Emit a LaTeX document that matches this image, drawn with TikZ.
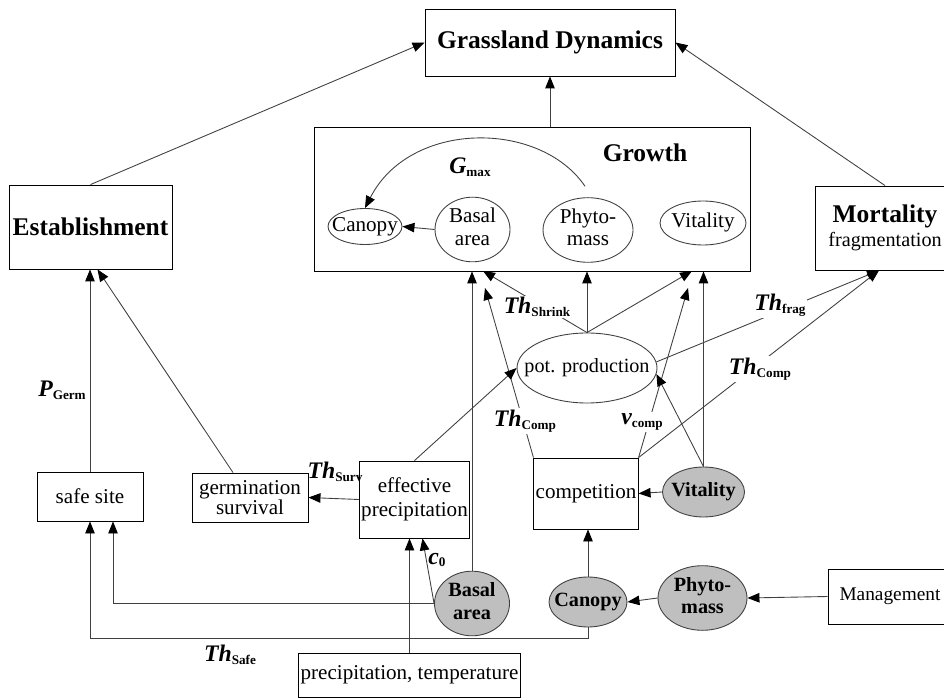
\documentclass[tikz,border=0pt]{standalone}
\usepackage{fontspec}
\setmainfont{Liberation Serif}
\usetikzlibrary{arrows.meta, shapes.geometric, calc}

\newcommand{\tight}[1]{\makebox[0pt]{\begin{tabular}{@{}c@{}}#1\end{tabular}}}
\newcommand{\parlab}[2]{{\fontsize{13.5}{13.5}\selectfont\bfseries\itshape #1}\raisebox{-1.5pt}{\fontsize{7.5}{7.5}\selectfont\bfseries #2}}

\begin{document}
\begin{tikzpicture}[
  x=0.2mm, y=-0.2mm,
  box/.style={draw, rectangle, inner sep=1pt, align=center, line width=0.5pt, font=\fontsize{12}{13.5}\selectfont},
  head/.style={box, font=\fontsize{14.5}{16}\selectfont\bfseries},
  ell/.style={draw=black!75, ellipse, inner sep=0pt, line width=0.5pt, font=\fontsize{12}{13}\selectfont},
  gell/.style={ell, fill=gray!50, font=\fontsize{11.5}{13}\selectfont\bfseries},
  arr/.style={-{Triangle[length=2.4mm, width=1.9mm, color=black]}, line width=0.5pt, draw=black!75},
  lab/.style={fill=white, inner sep=1pt},
  plain/.style={inner sep=1pt}
]
\useasboundingbox (0,0) rectangle (944,700);
\clip (0,0) rectangle (944,700);

\node[head, minimum width=50mm, minimum height=13.4mm] (gd) at (550,42.5) {Grassland Dynamics};
\node[box, minimum width=87.2mm, minimum height=28.8mm] (growth) at (532,199) {};
\node[font=\fontsize{14.5}{16}\selectfont\bfseries] (growthlab) at (645,153) {Growth};
\node[head, minimum width=32.6mm, minimum height=16.8mm] (estab) at (90.5,227) {Establishment};
\node[box, minimum width=28mm, minimum height=16.8mm, font=\fontsize{11.5}{13.5}\selectfont] (mort) at (885,228) {{\fontsize{14.5}{16}\selectfont\bfseries Mortality}\\fragmentation};

\node[ell, minimum width=14.8mm, minimum height=7.2mm] (canopy) at (365,226.5) {\tight{Canopy}};
\node[ell, minimum width=15mm, minimum height=11mm] (basal) at (472.5,229.5) {\tight{Basal\\area}};
\node[ell, minimum width=18mm, minimum height=10.8mm] (phyto) at (588,230) {\tight{Phyto-\\mass}};
\node[ell, minimum width=17.2mm, minimum height=8.8mm] (vital) at (703,223) {\tight{Vitality}};

\node[ell, minimum width=28mm, minimum height=14mm, font=\fontsize{11.5}{13}\selectfont] (pot) at (587,368) {\tight{pot. production}};

\node[box, minimum width=21.2mm, minimum height=9.8mm] (safe) at (90,496.5) {safe site};
\node[box, minimum width=23.2mm, minimum height=9.8mm] (germ) at (250,497.5) {germination\\[-2pt]survival};
\node[box, minimum width=21.8mm, minimum height=15.4mm] (effp) at (414.5,499.5) {effective\\precipitation};
\node[box, minimum width=20.4mm, minimum height=14.2mm] (comp) at (586,493.5) {competition};
\node[gell, minimum width=16.4mm, minimum height=10mm] (vitG) at (703.5,492) {\tight{Vitality}};
\node[gell, minimum width=17.8mm, minimum height=11.6mm] (phyG) at (702.5,598) {\tight{Phyto-\\mass}};
\node[gell, minimum width=15.6mm, minimum height=10mm] (canG) at (588,602) {\tight{Canopy}};
\node[gell, minimum width=15mm, minimum height=10.6mm] (basalG) at (472,603.5) {\tight{Basal\\area}};
\node[box, minimum width=24.8mm, minimum height=11mm, font=\fontsize{11}{13}\selectfont] (mgmt) at (890,596.5) {Management};
\node[box, minimum width=43.8mm, minimum height=8.8mm] (prec) at (409.5,675) {precipitation, temperature};

\coordinate (gA) at (483,271);
\coordinate (gB) at (485,288);
\coordinate (gC) at (692,271);
\coordinate (gD) at (688,288);
\coordinate (mB) at ($(mort.south)+(-6,0)$);

\draw[arr] (estab.north) -- (gd.west);
\draw[arr] (mort.north) -- (gd.east);
\draw[arr] (gd.south |- growth.north) -- (gd.south);

\draw[arr] (basal.west) -- (canopy.east);
\draw[arr] ($(phyto.north)+(-3,-11)$) .. controls (540,120) and (410,120) .. (canopy.north);

\draw[arr] (basalG.north) -- (basalG.north |- growth.south);
\draw[arr] (pot.north) -- (pot.north |- growth.south);
\draw[arr] (pot.north) -- (gA);
\draw[arr] (pot.north) -- (gC);
\draw[arr] (comp.north west) -- (gB);
\draw[arr] (comp.north east) -- (gD);
\draw[arr] (vitG.north) -- (vitG.north |- growth.south);
\draw[arr] (vitG.north) -- (pot.-5);
\draw[arr] (pot.5) -- (mB);
\draw[arr] (comp.north east) -- (mB);

\draw[arr] (effp.north) -- (pot.west);
\draw[arr] (prec.north) -- (prec.north |- effp.south);
\draw[arr] (basalG.west) -- ($(effp.south)+(8,0)$);
\draw[arr] (effp.west) -- (germ.east);
\draw[arr] ($(germ.north)+(-17,0)$) -- ($(estab.south)+(7,0)$);
\draw[arr] (safe.north) -- (safe.north |- estab.south);
\draw[arr] (basalG.west) -| ($(safe.south)+(23,0)$);
\draw[arr] (canG.south) -- ++(0,11) -| (safe.south);
\draw[arr] (canG.north) -- (canG.north |- comp.south);
\draw[arr] (phyG.west) -- (canG.east);
\draw[arr] (mgmt.west) -- (phyG.east);
\draw[arr] (vitG.west) -- (comp.east);

\node[lab] (lshrink) at (537,307) {\parlab{Th}{Shrink}};
\node[lab] (lcompa) at (525,421) {\parlab{Th}{Comp}};
\node[lab] (lvcomp) at (642,422) {\parlab{v}{comp}};
\node[lab] (lfrag) at (780,305) {\parlab{Th}{frag}};
\node[lab] (lcompb) at (760,369) {\parlab{Th}{Comp}};
\node[plain] (lsurv) at (335,472) {\parlab{Th}{Surv}};
\node[plain] (lczero) at (437,560) {\parlab{c}{0}};
\node[plain] (lgerm) at (62,390) {\parlab{P}{Germ}};
\node[plain] (lsafe) at (230,655) {\parlab{Th}{Safe}};
\node[plain] (lgmax) at (470,167) {\parlab{G}{max}};
\end{tikzpicture}
\end{document}
